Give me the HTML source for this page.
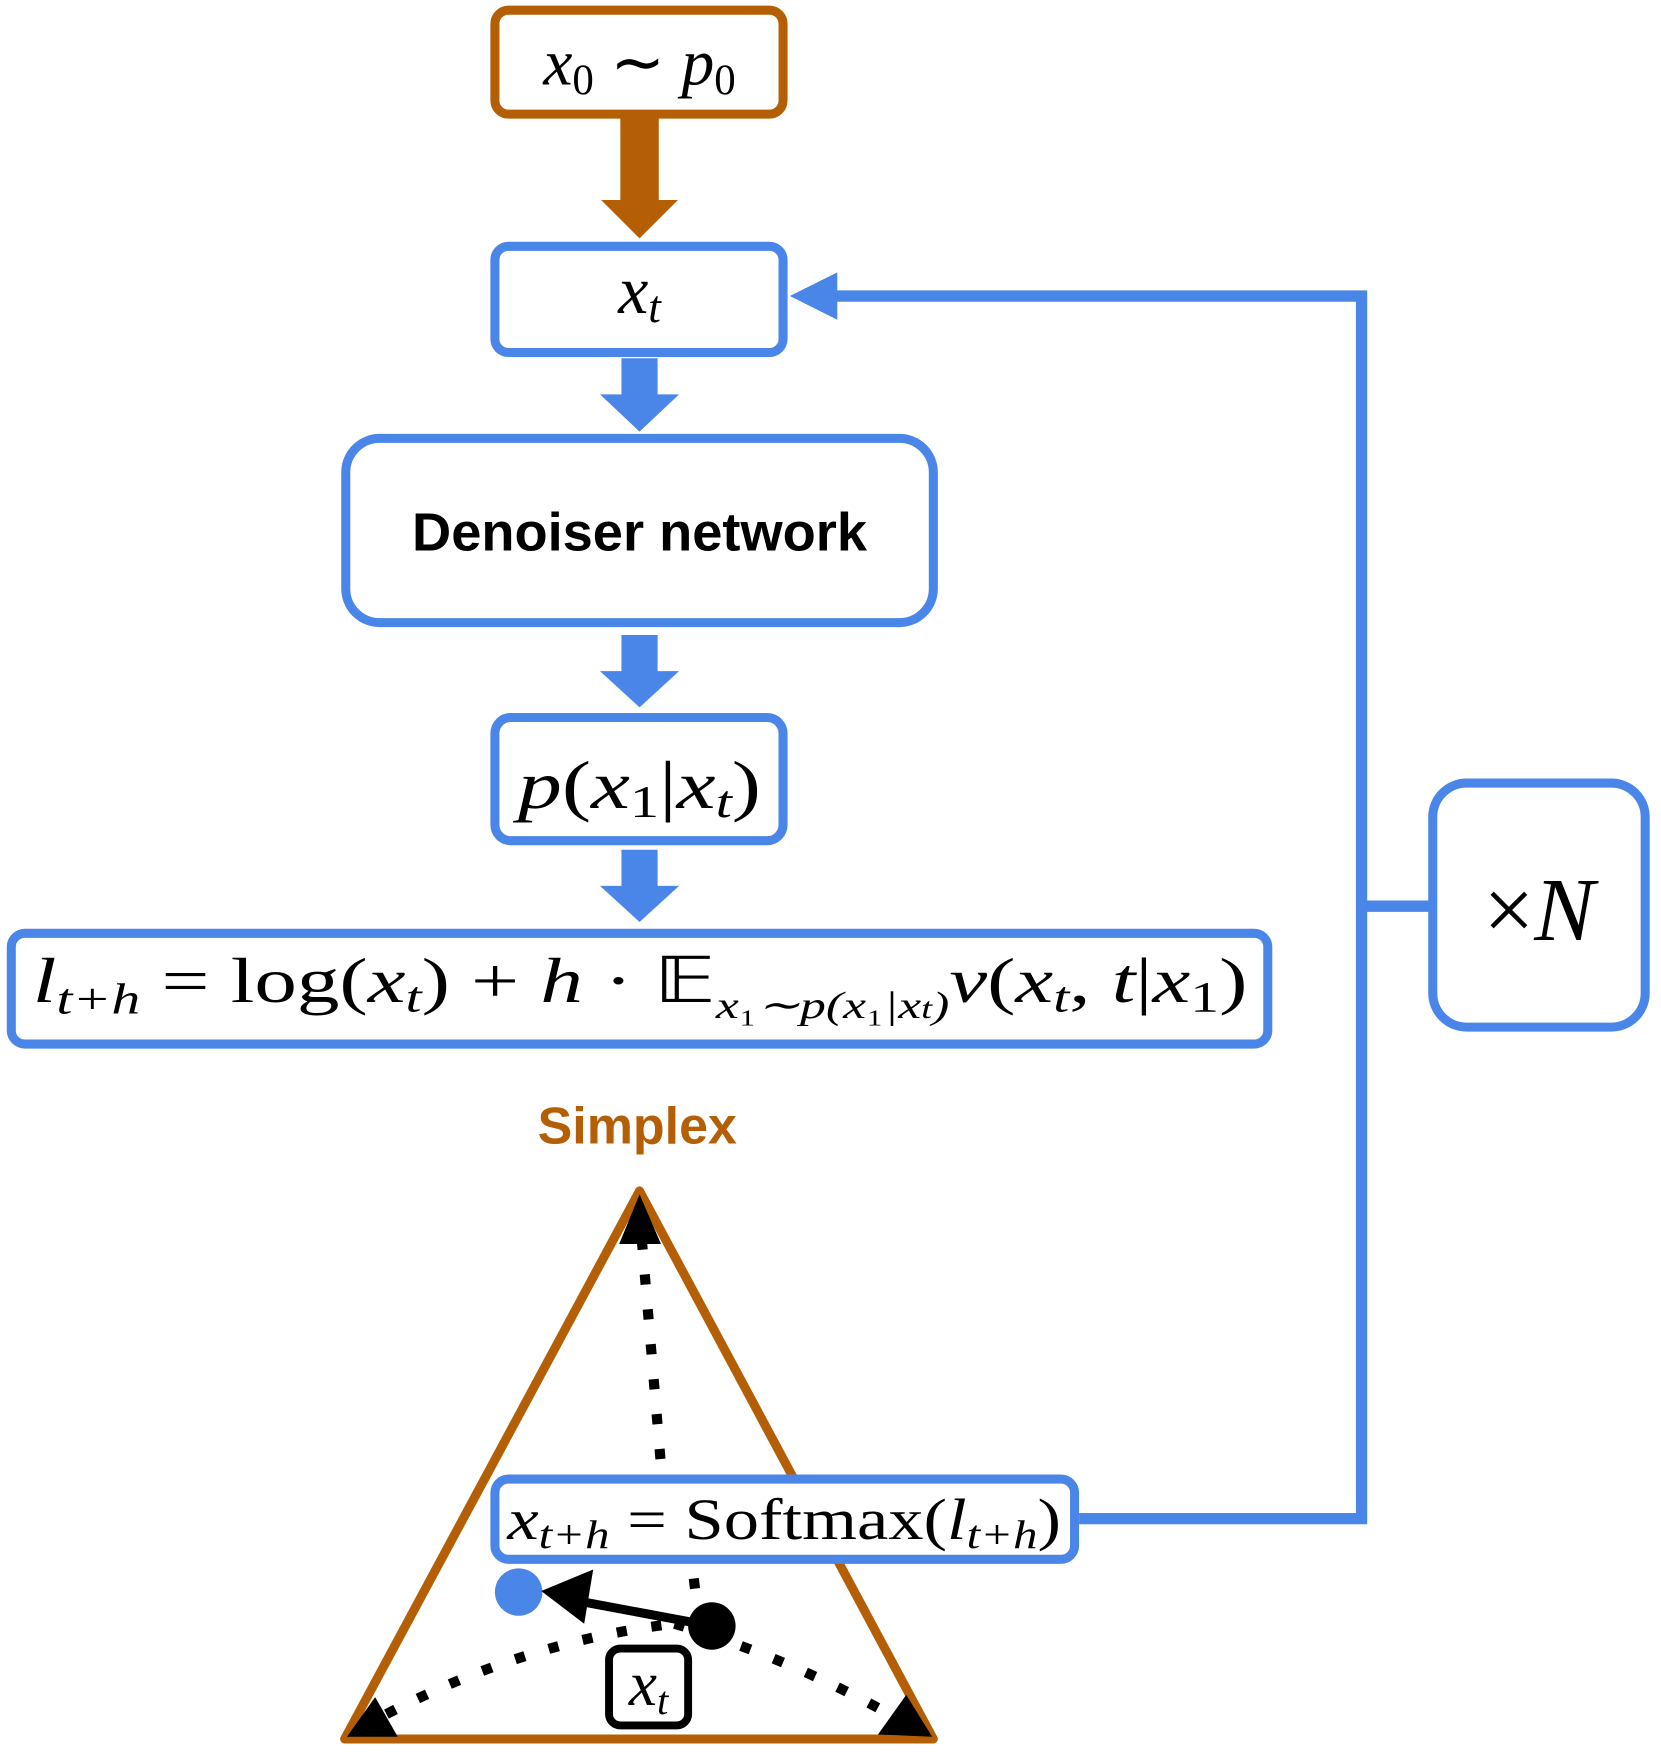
<!DOCTYPE html>
<html><head><meta charset="utf-8"><style>
html,body{margin:0;padding:0;background:#fff}
svg{display:block}
.m{font-family:"Liberation Serif",serif;font-style:italic;fill:#000}
.r{font-style:normal}
</style></head><body>
<svg width="1661" height="1761" viewBox="0 0 1470 1558.5" xmlns="http://www.w3.org/2000/svg">
<g transform="translate(-3,-3)">
<rect x="441" y="12" width="255" height="92" rx="12" fill="#fff" stroke="#B45F06" stroke-width="8"/>
<text x="569" y="78" text-anchor="middle" class="m" font-size="58">x<tspan font-size="38" class="r" dy="8">0</tspan><tspan dy="-8" class="r"> ∼ </tspan>p<tspan font-size="38" class="r" dy="8">0</tspan></text>
<polygon points="552,107 586,107 586,180 603,180 569,214 535,180 552,180" fill="#B45F06"/>
<rect x="441" y="221" width="255" height="94" rx="12" fill="#fff" stroke="#4A86E8" stroke-width="8"/>
<text x="569" y="280" text-anchor="middle" class="m" font-size="60">x<tspan font-size="40" dy="8">t</tspan></text>
<polygon points="553,320 585,320 585,352 604,352 569,385 534,352 553,352" fill="#4A86E8"/>
<rect x="309" y="391" width="520" height="163" rx="30" fill="#fff" stroke="#4A86E8" stroke-width="8"/>
<text x="569" y="490" text-anchor="middle" font-family="Liberation Sans,sans-serif" font-weight="bold" font-size="48">Denoiser network</text>
<polygon points="553,565 585,565 585,597 604,597 569,629 534,597 553,597" fill="#4A86E8"/>
<rect x="441" y="638" width="255" height="109" rx="14" fill="#fff" stroke="#4A86E8" stroke-width="8"/>
<text x="569" y="718" text-anchor="middle" class="m" font-size="60" textLength="215" lengthAdjust="spacingAndGlyphs">p<tspan class="r">(</tspan>x<tspan font-size="40" class="r" dy="8">1</tspan><tspan dy="-8" class="r">|</tspan>x<tspan font-size="40" dy="8">t</tspan><tspan dy="-8" class="r">)</tspan></text>
<polygon points="553,755 585,755 585,787 604,787 569,819 534,787 553,787" fill="#4A86E8"/>
<rect x="13" y="829" width="1112" height="98" rx="12" fill="#fff" stroke="#4A86E8" stroke-width="8"/>
<text x="32" y="890" class="m" font-size="56" textLength="1075" lengthAdjust="spacingAndGlyphs">l<tspan font-size="38" dy="10">t+h</tspan><tspan dy="-10" class="r"> = log(</tspan>x<tspan font-size="38" dy="8">t</tspan><tspan dy="-8" class="r">) + </tspan>h<tspan class="r"> · 𝔼</tspan><tspan font-size="34" dy="14">x<tspan class="r">₁</tspan>∼p(x<tspan class="r">₁</tspan>|x<tspan font-size="26">t</tspan>)</tspan><tspan dy="-14">v</tspan><tspan class="r">(</tspan>x<tspan font-size="38" dy="8">t</tspan><tspan dy="-8" class="r">, </tspan>t<tspan class="r">|</tspan>x<tspan font-size="38" class="r" dy="8">1</tspan><tspan dy="-8" class="r">)</tspan></text>
<text x="567" y="1015" text-anchor="middle" font-family="Liberation Sans,sans-serif" font-weight="bold" font-size="46" fill="#B45F06">Simplex</text>
<polygon points="569,1057 308,1542 829,1542" fill="none" stroke="#B45F06" stroke-width="8" stroke-linejoin="round"/>
<g stroke="#000" stroke-width="9" stroke-dasharray="9,22" fill="none">
<path d="M571,1100 L588,1300"/>
<path d="M617,1400 L622,1440"/>
<path d="M345,1520 Q470,1455 600,1440"/>
<path d="M600,1440 Q700,1470 790,1520"/>
</g>
<polygon points="569,1060 551,1104 588,1104" fill="#000"/>
<polygon points="310,1540 335,1505 355,1540" fill="#000"/>
<polygon points="828,1540 805,1503 780,1538" fill="#000"/>
<rect x="441" y="1312" width="513" height="71" rx="12" fill="#fff" stroke="#4A86E8" stroke-width="8"/>
<text x="452" y="1365" class="m" font-size="52" textLength="490" lengthAdjust="spacingAndGlyphs">x<tspan font-size="36" dy="8">t+h</tspan><tspan dy="-8" class="r"> = Softmax(</tspan>l<tspan font-size="36" dy="8">t+h</tspan><tspan dy="-8" class="r">)</tspan></text>
<polyline points="958,1347 1208,1347 1208,265 740,265" fill="none" stroke="#4A86E8" stroke-width="10"/>
<polygon points="702,265 744,244 744,286" fill="#4A86E8"/>
<line x1="1208" y1="805" x2="1272" y2="805" stroke="#4A86E8" stroke-width="10"/>
<rect x="1271" y="696" width="188" height="216" rx="30" fill="#fff" stroke="#4A86E8" stroke-width="8"/>
<text x="1365" y="835" text-anchor="middle" class="m" font-size="80"><tspan class="r">×</tspan>N</text>
<circle cx="462" cy="1412" r="21" fill="#4A86E8"/>
<line x1="633" y1="1442" x2="515" y2="1420" stroke="#000" stroke-width="8"/>
<polygon points="482,1411 528,1392 520,1440" fill="#000"/>
<circle cx="633" cy="1442" r="21" fill="#000"/>
<rect x="542" y="1462" width="70" height="68" rx="10" fill="#fff" stroke="#000" stroke-width="7"/>
<text x="577" y="1512" text-anchor="middle" class="m" font-size="56">x<tspan font-size="36" dy="8">t</tspan></text>
</g>
</svg>
</body></html>
